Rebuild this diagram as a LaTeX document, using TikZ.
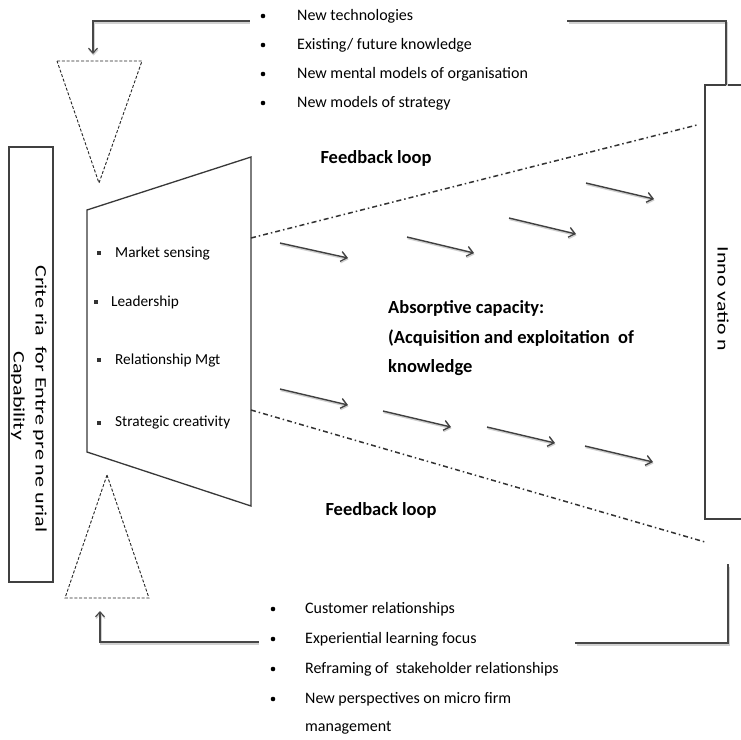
\documentclass[tikz,border=0pt]{standalone}
\usepackage{fontspec}
\setmainfont{Carlito}
\usetikzlibrary{arrows.meta}
\tikzset{
  conn/.style={draw=black!72, line width=1.7pt, line cap=rect,
    preaction={draw=black!18, line width=2pt, transform canvas={shift={(0.6pt,-1.6pt)}}}},
  tip/.style={-{Straight Barb[length=5pt,width=9pt,line width=1.2pt]}},
  tri/.style={draw=black!85, line width=0.9pt, dash pattern=on 3pt off 1.8pt},
  dashdot/.style={draw=black!80, line width=1.5pt, dash pattern=on 5pt off 3pt on 1.5pt off 3pt},
  flow/.style={draw=black!75, line width=1.4pt, -{Straight Barb[length=6pt,width=10pt,line width=1.3pt]},
    preaction={draw=black!18, line width=1.6pt, transform canvas={shift={(0.5pt,-1.4pt)}}}},
  boxline/.style={draw=black!75, line width=1.6pt},
  txt/.style={font=\fontsize{16}{19}\selectfont, anchor=west, inner sep=0pt},
  mtxt/.style={font=\fontsize{15.3}{19}\selectfont, anchor=west, inner sep=0pt},
  btxt/.style={font=\bfseries\fontsize{18.5}{22}\selectfont, anchor=west, inner sep=0pt},
  vtxt/.style={rotate=-90, font=\fontsize{16}{19}\selectfont, inner sep=0pt},
  dot/.style={circle, fill=black, inner sep=0pt, minimum size=4.6pt},
  sq/.style={rectangle, fill=black!80, inner sep=0pt, minimum size=3.2pt}
}
\begin{document}
\begin{tikzpicture}[x=1pt,y=-1pt]
\useasboundingbox (0,0) rectangle (741,739);
\clip (0,0) rectangle (741,739);
\fill[white] (0,0) rectangle (741,739);

% top bullet list
\node[dot] (td1) at (263,16) {};
\node[dot] (td2) at (263,45) {};
\node[dot] (td3) at (263,74) {};
\node[dot] (td4) at (263,103) {};
\node[txt] (t1) at (297,16) {New technologies};
\node[txt] (t2) at (297,45) {Existing/ future knowledge};
\node[txt] (t3) at (297,74) {New mental models of organisation};
\node[txt] (t4) at (297,103) {New models of strategy};

% bottom bullet list
\node[dot] (bd1) at (273,609) {};
\node[dot] (bd2) at (273,639) {};
\node[dot] (bd3) at (273,669) {};
\node[dot] (bd4) at (273,699) {};
\node[txt] (b1) at (305,609) {Customer relationships};
\node[txt] (b2) at (305,639) {Experiential learning focus};
\node[txt] (b3) at (305,669) {Reframing of\ \ stakeholder relationships};
\node[txt] (b4) at (305,699) {New perspectives on micro firm};
\node[txt] (b5) at (305,728) {management};

% left box
\node[boxline, rectangle, minimum width=44pt, minimum height=435pt, inner sep=0pt] (crit) at (31,364.5) {};
\node[vtxt] (crit1) at (40,399) {\scalebox{1.38}[1]{Crite ria\ \ for Entre pre ne urial}};
\node[vtxt] (crit2) at (18,396) {\scalebox{1.38}[1]{Capability}};

% innovation box
\node[boxline, rectangle, minimum width=42pt, minimum height=434pt, inner sep=0pt] (innov) at (726,302) {};
\node[vtxt] (innovtxt) at (723,299) {\scalebox{1.36}[1]{Inno vatio n}};

% triangles
\draw[tri] (57,61) -- (142,61) -- (99,183) -- cycle;
\draw[tri] (107,475) -- (149,598) -- (65,598) -- cycle;

% trapezoid
\draw[draw=black!78, line width=1.3pt] (87,210) -- (251,157) -- (251,506) -- (87,452) -- cycle;
\node[sq] (s1) at (99,253) {};
\node[sq] (s2) at (96,302) {};
\node[sq] (s3) at (99,360) {};
\node[sq] (s4) at (99,423) {};
\node[mtxt] (m1) at (115,253) {Market sensing};
\node[mtxt] (m2) at (111,302) {Leadership};
\node[mtxt] (m3) at (115,360) {Relationship Mgt};
\node[mtxt] (m4) at (115,423) {Strategic creativity};

% feedback loops and centre text
\node[btxt, anchor=center] (fb1) at (376,158) {Feedback loop};
\node[btxt, anchor=center] (fb2) at (381,510) {Feedback loop};
\node[btxt] (a1) at (388,308) {Absorptive capacity:};
\node[btxt] (a2) at (388,338) {(Acquisition and exploitation\ \ of};
\node[btxt] (a3) at (388,368) {knowledge};

% dash-dot lines
\coordinate (trapU) at (251,238);
\coordinate (trapL) at (251,410);
\coordinate (endU) at (697,125);
\coordinate (endL) at (705,542);
\draw[dashdot] (trapU) -- (endU);
\draw[dashdot] (trapL) -- (endL);

% flow arrows
\coordinate (f1a) at (280,243); \coordinate (f1b) at (348,258);
\coordinate (f2a) at (407,237); \coordinate (f2b) at (474,253);
\coordinate (f3a) at (509,218); \coordinate (f3b) at (576,234);
\coordinate (f4a) at (586,183); \coordinate (f4b) at (654,199);
\coordinate (g1a) at (280,389); \coordinate (g1b) at (348,405);
\coordinate (g2a) at (383,411); \coordinate (g2b) at (451,427);
\coordinate (g3a) at (487,427); \coordinate (g3b) at (555,443);
\coordinate (g4a) at (585,446); \coordinate (g4b) at (653,462);
\foreach \p in {f1,f2,f3,f4,g1,g2,g3,g4}{\draw[flow] (\p a) -- (\p b);}

% connectors
\coordinate (topL) at (249,21);
\coordinate (topTip) at (93,54);
\coordinate (topR) at (568,21);
\coordinate (botL) at (258,642);
\coordinate (botTip) at (100,611);
\coordinate (botR) at (728,565);
\coordinate (botRend) at (576,643);
\draw[conn, tip] (topL) -| (topTip);
\draw[conn] (topR) -| (innov.north);
\draw[conn, tip] (botL) -| (botTip);
\draw[conn] (botR) |- (botRend);
\end{tikzpicture}
\end{document}
